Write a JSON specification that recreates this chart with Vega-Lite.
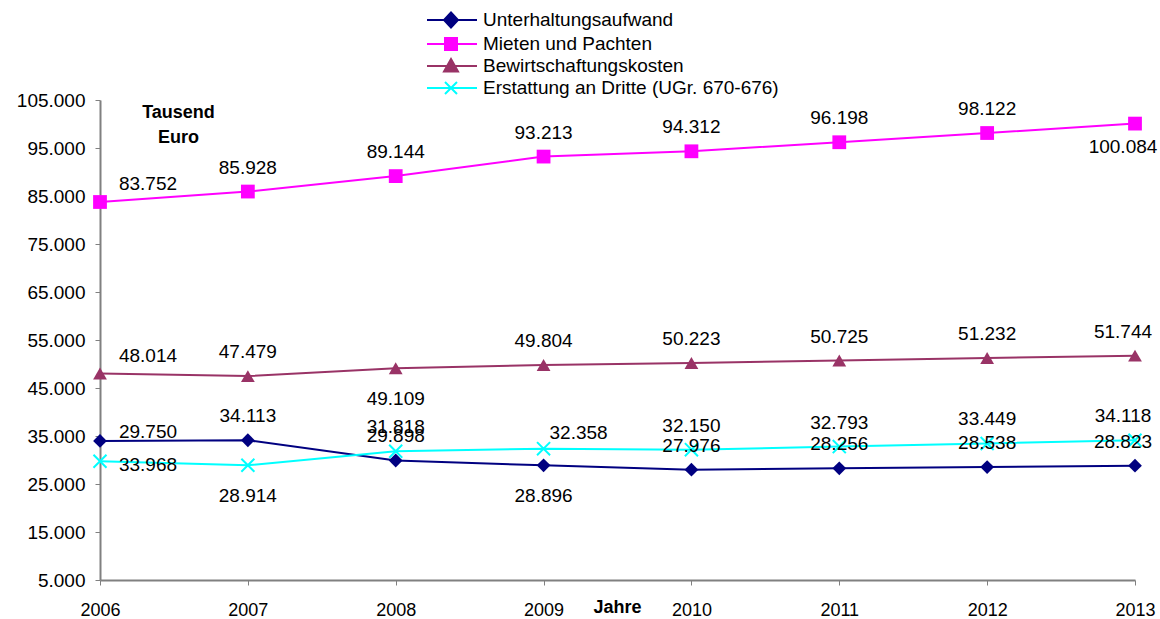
{
  "$schema": "https://vega.github.io/schema/vega-lite/v6.json",
  "width": 1035,
  "height": 480,
  "autosize": {"type": "none"},
  "padding": {"left": 100, "top": 100, "right": 25, "bottom": 39},
  "background": "white",
  "config": {
    "locale": {"number": {"decimal": ",", "thousands": ".", "grouping": [3], "currency": ["", " €"]}},
    "font": "Liberation Sans",
    "view": {"stroke": null},
    "text": {"font": "Liberation Sans", "fontSize": 19, "color": "black", "baseline": "middle", "align": "center"}
  },
  "data": {
    "values": [
      {"year": 2006, "series": "Unterhaltungsaufwand", "value": 33968},
      {"year": 2007, "series": "Unterhaltungsaufwand", "value": 34113},
      {"year": 2008, "series": "Unterhaltungsaufwand", "value": 29898},
      {"year": 2009, "series": "Unterhaltungsaufwand", "value": 28896},
      {"year": 2010, "series": "Unterhaltungsaufwand", "value": 27976},
      {"year": 2011, "series": "Unterhaltungsaufwand", "value": 28256},
      {"year": 2012, "series": "Unterhaltungsaufwand", "value": 28538},
      {"year": 2013, "series": "Unterhaltungsaufwand", "value": 28823},
      {"year": 2006, "series": "Mieten und Pachten", "value": 83752},
      {"year": 2007, "series": "Mieten und Pachten", "value": 85928},
      {"year": 2008, "series": "Mieten und Pachten", "value": 89144},
      {"year": 2009, "series": "Mieten und Pachten", "value": 93213},
      {"year": 2010, "series": "Mieten und Pachten", "value": 94312},
      {"year": 2011, "series": "Mieten und Pachten", "value": 96198},
      {"year": 2012, "series": "Mieten und Pachten", "value": 98122},
      {"year": 2013, "series": "Mieten und Pachten", "value": 100084},
      {"year": 2006, "series": "Bewirtschaftungskosten", "value": 48014},
      {"year": 2007, "series": "Bewirtschaftungskosten", "value": 47479},
      {"year": 2008, "series": "Bewirtschaftungskosten", "value": 49109},
      {"year": 2009, "series": "Bewirtschaftungskosten", "value": 49804},
      {"year": 2010, "series": "Bewirtschaftungskosten", "value": 50223},
      {"year": 2011, "series": "Bewirtschaftungskosten", "value": 50725},
      {"year": 2012, "series": "Bewirtschaftungskosten", "value": 51232},
      {"year": 2013, "series": "Bewirtschaftungskosten", "value": 51744},
      {"year": 2006, "series": "Erstattung an Dritte (UGr. 670-676)", "value": 29750},
      {"year": 2007, "series": "Erstattung an Dritte (UGr. 670-676)", "value": 28914},
      {"year": 2008, "series": "Erstattung an Dritte (UGr. 670-676)", "value": 31818},
      {"year": 2009, "series": "Erstattung an Dritte (UGr. 670-676)", "value": 32358},
      {"year": 2010, "series": "Erstattung an Dritte (UGr. 670-676)", "value": 32150},
      {"year": 2011, "series": "Erstattung an Dritte (UGr. 670-676)", "value": 32793},
      {"year": 2012, "series": "Erstattung an Dritte (UGr. 670-676)", "value": 33449},
      {"year": 2013, "series": "Erstattung an Dritte (UGr. 670-676)", "value": 34118}
    ]
  },
  "encoding": {
    "x": {
      "field": "year", "type": "quantitative",
      "scale": {"domain": [2006, 2013], "nice": false, "zero": false},
      "axis": {
        "values": [2006, 2007, 2008, 2009, 2010, 2011, 2012, 2013],
        "format": "d",
        "grid": false,
        "domainColor": "#808080", "domainWidth": 2,
        "tickColor": "#808080", "tickWidth": 1, "tickSize": 5,
        "labelFont": "Liberation Sans", "labelFontSize": 18, "labelColor": "black",
        "labelPadding": 16,
        "labelFlush": false,
        "title": "Jahre",
        "titleFont": "Liberation Sans", "titleFontSize": 18, "titleFontWeight": "bold", "titleColor": "black",
        "titleX": 517, "titleY": 27, "titleBaseline": "middle", "titleAlign": "center", "titleAnchor": null,
        "encode": {"ticks": {"update": {"y": {"value": -5}}}}
      }
    },
    "y": {
      "field": "value", "type": "quantitative",
      "scale": {"domain": [5000, 105000], "nice": false, "zero": false},
      "axis": {
        "values": [5000, 15000, 25000, 35000, 45000, 55000, 65000, 75000, 85000, 95000, 105000],
        "format": ",d",
        "grid": false,
        "domainColor": "#808080", "domainWidth": 2,
        "tickColor": "#808080", "tickWidth": 1, "tickSize": 5,
        "labelFont": "Liberation Sans", "labelFontSize": 19, "labelColor": "black",
        "labelPadding": 10,
        "title": ["Tausend", "Euro"],
        "titleFont": "Liberation Sans", "titleFontSize": 18, "titleFontWeight": "bold", "titleColor": "black",
        "titleAngle": 0, "titleX": 78, "titleY": 3, "titleBaseline": "top", "titleAlign": "center", "titleLineHeight": 25, "titleAnchor": null,
        "encode": {"ticks": {"update": {"x": {"value": 5}}}}
      }
    }
  },
  "layer": [
    {
      "mark": {"type": "line", "strokeWidth": 2},
      "encoding": {
        "color": {
          "field": "series", "type": "nominal",
          "scale": {
            "domain": ["Unterhaltungsaufwand", "Mieten und Pachten", "Bewirtschaftungskosten", "Erstattung an Dritte (UGr. 670-676)"],
            "range": ["#000080", "#FF00FF", "#993366", "#00FFFF"]
          },
          "legend": {
            "title": null,
            "orient": "none",
            "legendX": 356,
            "legendY": -91,
            "labelFont": "Liberation Sans", "labelFontSize": 19, "labelColor": "black",
            "labelLimit": 0,
            "labelOffset": 5,
            "rowPadding": 1,
            "symbolSize": 400,
            "symbolStrokeWidth": 2,
            "encode": {
              "symbols": {
                "update": {
                  "shape": {"signal": "datum.value==='Unterhaltungsaufwand' ? 'M-4,0H1M-1.6,-0.75L-0.9,0L-1.6,0.75L-2.3,0Z' : datum.value==='Mieten und Pachten' ? 'M-4,0H1M-2.2,-0.6H-1V0.6H-2.2Z' : datum.value==='Bewirtschaftungskosten' ? 'M-4,0H1M-1.6,-0.7L-0.9,0.55H-2.3Z' : 'M-4,0H1M-2.2,-0.6L-1,0.6M-2.2,0.6L-1,-0.6'"},
                  "fill": {"scale": "color", "field": "value"},
                  "stroke": {"scale": "color", "field": "value"},
                  "strokeWidth": {"value": 2},
                  "opacity": {"value": 1}
                }
              }
            }
          }
        }
      }
    },
    {
      "transform": [{"filter": "datum.series !== 'Erstattung an Dritte (UGr. 670-676)'"}],
      "mark": {"type": "point", "filled": true, "opacity": 1, "size": 190},
      "encoding": {
        "color": {"field": "series", "type": "nominal"},
        "shape": {
          "field": "series", "type": "nominal",
          "scale": {"domain": ["Unterhaltungsaufwand", "Mieten und Pachten", "Bewirtschaftungskosten"], "range": ["diamond", "square", "triangle-up"]},
          "legend": null
        }
      }
    },
    {
      "transform": [{"filter": "datum.series === 'Erstattung an Dritte (UGr. 670-676)'"}],
      "mark": {"type": "point", "filled": false, "opacity": 1, "size": 170, "strokeWidth": 2, "shape": "M-1,-1L1,1M-1,1L1,-1"},
      "encoding": {
        "color": {"field": "series", "type": "nominal"}
      }
    },
    {
      "transform": [{"filter": "datum.year > 2006 && datum.year < 2013 && !(datum.series === 'Bewirtschaftungskosten' && datum.year === 2008) && !(datum.series === 'Unterhaltungsaufwand' && datum.year === 2009) && !(datum.series === 'Erstattung an Dritte (UGr. 670-676)' && (datum.year === 2007 || datum.year === 2009))"}],
      "mark": {"type": "text", "dy": -24},
      "encoding": {"text": {"field": "value", "type": "quantitative", "format": ",d"}}
    },
    {
      "transform": [{"filter": "(datum.series === 'Bewirtschaftungskosten' && datum.year === 2008) || (datum.series === 'Unterhaltungsaufwand' && datum.year === 2009) || (datum.series === 'Erstattung an Dritte (UGr. 670-676)' && datum.year === 2007)"}],
      "mark": {"type": "text", "dy": 31},
      "encoding": {"text": {"field": "value", "type": "quantitative", "format": ",d"}}
    },
    {
      "transform": [{"filter": "datum.series === 'Erstattung an Dritte (UGr. 670-676)' && datum.year === 2009"}],
      "mark": {"type": "text", "dx": 35, "dy": -16},
      "encoding": {"text": {"field": "value", "type": "quantitative", "format": ",d"}}
    },
    {
      "transform": [{"filter": "datum.year === 2006 && (datum.series === 'Mieten und Pachten' || datum.series === 'Bewirtschaftungskosten')"}],
      "mark": {"type": "text", "dx": 48, "dy": -18},
      "encoding": {"text": {"field": "value", "type": "quantitative", "format": ",d"}}
    },
    {
      "transform": [{"filter": "datum.year === 2006 && datum.series === 'Erstattung an Dritte (UGr. 670-676)'"}],
      "mark": {"type": "text", "dx": 48, "dy": -29},
      "encoding": {"text": {"field": "value", "type": "quantitative", "format": ",d"}}
    },
    {
      "transform": [{"filter": "datum.year === 2006 && datum.series === 'Unterhaltungsaufwand'"}],
      "mark": {"type": "text", "dx": 48, "dy": 24},
      "encoding": {"text": {"field": "value", "type": "quantitative", "format": ",d"}}
    },
    {
      "transform": [{"filter": "datum.year === 2013 && datum.series !== 'Mieten und Pachten'"}],
      "mark": {"type": "text", "dx": -12, "dy": -24},
      "encoding": {"text": {"field": "value", "type": "quantitative", "format": ",d"}}
    },
    {
      "transform": [{"filter": "datum.year === 2013 && datum.series === 'Mieten und Pachten'"}],
      "mark": {"type": "text", "dx": -12, "dy": 23},
      "encoding": {"text": {"field": "value", "type": "quantitative", "format": ",d"}}
    }
  ]
}
